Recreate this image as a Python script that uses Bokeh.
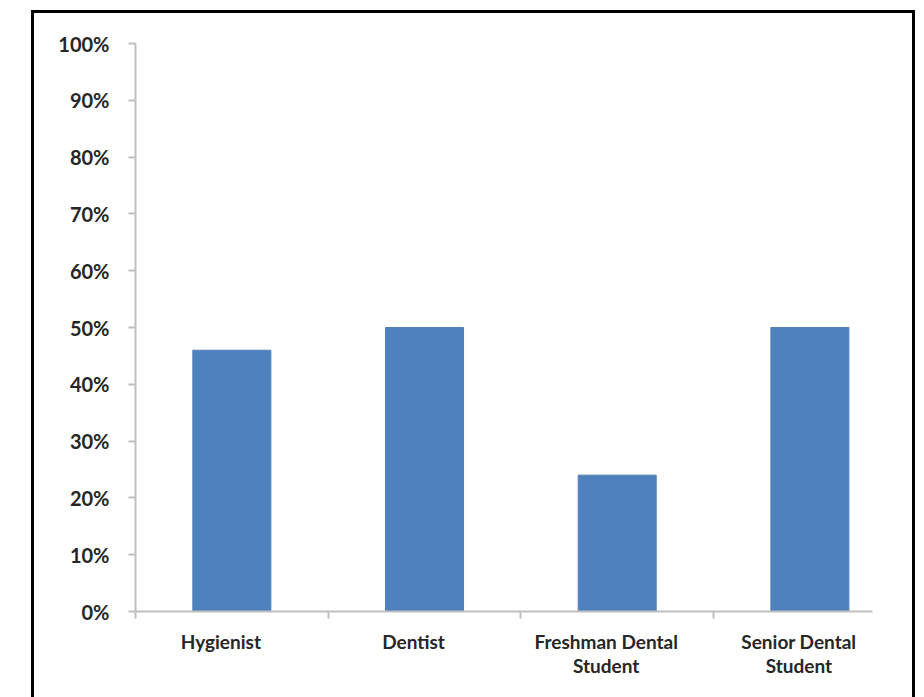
from bokeh.plotting import figure
from bokeh.layouts import column
from bokeh.models import Range1d, FixedTicker, ColumnDataSource
from bokeh.embed import file_html
from bokeh.resources import INLINE

categories = ["Hygienist", "Dentist", "Freshman Dental\nStudent", "Senior Dental\nStudent"]
values = [0.46, 0.50, 0.24, 0.50]
y_ticks = [0.0, 0.1, 0.2, 0.3, 0.4, 0.5, 0.6, 0.7, 0.8, 0.9, 1.0]
y_labels = ["0%", "10%", "20%", "30%", "40%", "50%", "60%", "70%", "80%", "90%", "100%"]

centers = [i + 0.5 for i in range(len(categories))]
label_pos = [c - 0.057 for c in centers]
bounds = [float(i) for i in range(len(categories))]

p = figure(width=878, height=684, output_backend="svg", toolbar_location=None,
           x_range=Range1d(0, 3.825), y_range=Range1d(0, 1),
           min_border_left=101, min_border_right=40, min_border_top=30, min_border_bottom=86)
p.outline_line_color = None
p.grid.grid_line_color = None
p.background_fill_color = "white"
p.border_fill_color = "white"

src = ColumnDataSource(dict(x=centers, top=values))
p.vbar(x="x", top="top", bottom=0, width=0.405, source=src,
       fill_color="#4F81BD", line_color="#4F81BD", line_width=1)

font = "Lato"
txt = "#262626"
axcol = "#BFBFBF"

ya = p.yaxis[0]
ya.ticker = FixedTicker(ticks=y_ticks)
ya.major_label_overrides = {t: l for t, l in zip(y_ticks, y_labels)}
ya.axis_line_color = axcol
ya.axis_line_width = 2
ya.major_tick_line_color = axcol
ya.major_tick_line_width = 2
ya.major_tick_in = 0
ya.major_tick_out = 7
ya.minor_tick_line_color = None
ya.major_label_standoff = 19
ya.major_label_text_font = font
ya.major_label_text_font_style = "bold"
ya.major_label_text_font_size = "20px"
ya.major_label_text_color = txt

xa = p.xaxis[0]
xa.ticker = FixedTicker(ticks=label_pos, minor_ticks=bounds)
xa.major_label_overrides = {c: l for c, l in zip(label_pos, categories)}
xa.axis_line_color = axcol
xa.axis_line_width = 2
xa.major_tick_line_color = None
xa.minor_tick_line_color = axcol
xa.minor_tick_line_width = 2
xa.minor_tick_in = 0
xa.minor_tick_out = 7
xa.major_label_standoff = 11
xa.major_label_text_font = font
xa.major_label_text_font_style = "bold"
xa.major_label_text_font_size = "19px"
xa.major_label_text_color = txt
xa.major_label_text_line_height = 1.05

layout = column(p, styles={"border": "3px solid black", "border-bottom": "none",
                           "margin-left": "31px", "margin-top": "10px",
                           "background-color": "white"})

open("out.html", "w").write(file_html(layout, INLINE))
